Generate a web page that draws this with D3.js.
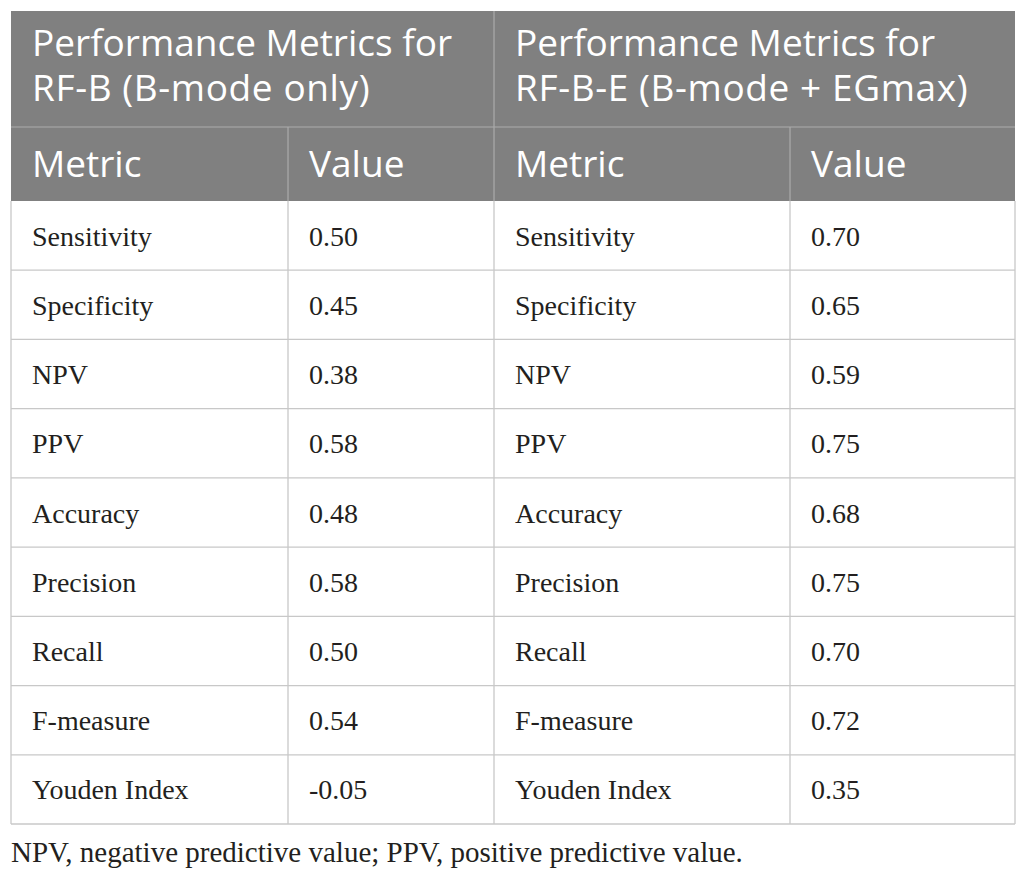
<!DOCTYPE html>
<html>
<head>
<meta charset="utf-8">
<script src="https://cdn.jsdelivr.net/npm/d3@7"></script>
<style>
  body { margin: 0; background: #fff; }
  svg { display: block; }
</style>
</head>
<body>
<svg id="chart"></svg>
<script>
const width = 1026;
const height = 877;

// table content
const groupTitles = [
  ["Performance Metrics for", "RF-B (B-mode only)"],
  ["Performance Metrics for", "RF-B-E (B-mode + EGmax)"]
];
const subHeaders = ["Metric", "Value", "Metric", "Value"];
const metrics = ["Sensitivity", "Specificity", "NPV", "PPV", "Accuracy",
                 "Precision", "Recall", "F-measure", "Youden Index"];
const rfBValues = ["0.50", "0.45", "0.38", "0.58", "0.48", "0.58", "0.50", "0.54", "-0.05"];
const rfBEValues = ["0.70", "0.65", "0.59", "0.75", "0.68", "0.75", "0.70", "0.72", "0.35"];
const footnote = "NPV, negative predictive value; PPV, positive predictive value.";

const tLeft = 11, tRight = 1015;
const tTop = 11, head1 = 127, head2 = 201, tBottom = 824;
const headFill = "#808080";
const gridColor = "#c8c8c8";
const headFont = "'Open Sans', sans-serif";
const bodyFont = "'Liberation Serif', serif";

const svg = d3.select("#chart")
  .attr("width", width)
  .attr("height", height);

// columns: metric / value / metric / value
const colEdges = [tLeft, 288, 494, 790, tRight];
const x = d3.scaleOrdinal().domain(d3.range(5)).range(colEdges);

const y = d3.scaleBand()
  .domain(metrics.map((d, i) => i))
  .range([head2, tBottom]);

const rows = metrics.map((m, i) => [m, rfBValues[i], m, rfBEValues[i]]);

// header background
svg.append("rect")
  .attr("x", tLeft)
  .attr("y", tTop)
  .attr("width", tRight - tLeft)
  .attr("height", head2 - tTop)
  .attr("fill", headFill);

// header lines
const headLine = svg.append("g").attr("stroke", "#ababab").attr("stroke-width", 1.2);
headLine.append("line")
  .attr("x1", tLeft).attr("x2", tRight)
  .attr("y1", head1).attr("y2", head1);
headLine.append("line")
  .attr("x1", x(2)).attr("x2", x(2))
  .attr("y1", tTop).attr("y2", head2);
headLine.selectAll(".sub")
  .data([1, 3])
  .enter().append("line")
  .attr("x1", (d) => x(d)).attr("x2", (d) => x(d))
  .attr("y1", head1).attr("y2", head2);

// group titles, two lines each
svg.append("g")
  .attr("font-family", headFont)
  .attr("font-size", 37)
  .attr("fill", "#fff")
  .selectAll("g")
  .data(groupTitles)
  .enter().append("g")
  .attr("transform", (d, i) => "translate(" + (x(i * 2) + 21) + ",0)")
  .selectAll("text")
  .data((d) => d)
  .enter().append("text")
  .attr("y", (d, i) => 56 + i * 45)
  .attr("letter-spacing", (d, i) => i === 0 ? 0 : 0.6)
  .text((d) => d);

// sub headers
svg.append("g")
  .attr("font-family", headFont)
  .attr("font-size", 37)
  .attr("fill", "#fff")
  .selectAll("text")
  .data(subHeaders)
  .enter().append("text")
  .attr("x", (d, i) => x(i) + 21)
  .attr("y", (head1 + head2) / 2 + 13)
  .text((d) => d);

// body grid
const grid = svg.append("g")
  .attr("stroke", gridColor)
  .attr("stroke-width", 1.3);
grid.selectAll(".h")
  .data(metrics.map((d, i) => i))
  .enter().append("line")
  .attr("x1", tLeft).attr("x2", tRight)
  .attr("y1", (d) => y(d) + y.bandwidth())
  .attr("y2", (d) => y(d) + y.bandwidth());
grid.selectAll(".v")
  .data(d3.range(5))
  .enter().append("line")
  .attr("x1", (d) => x(d)).attr("x2", (d) => x(d))
  .attr("y1", head2).attr("y2", tBottom);

// body text
const rowG = svg.append("g")
  .attr("font-family", bodyFont)
  .attr("font-size", 28)
  .attr("fill", "#231f20")
  .selectAll("g")
  .data(rows)
  .enter().append("g")
  .attr("transform", (d, i) => "translate(0," + (y(i) + y.bandwidth() / 2 + 10) + ")");

rowG.selectAll("text")
  .data((d) => d)
  .enter().append("text")
  .attr("x", (d, i) => x(i) + 21)
  .text((d) => d);

// footnote
svg.append("text")
  .attr("x", tLeft)
  .attr("y", 862)
  .attr("font-family", bodyFont)
  .attr("font-size", 29)
  .attr("fill", "#231f20")
  .text(footnote);
</script>
</body>
</html>
